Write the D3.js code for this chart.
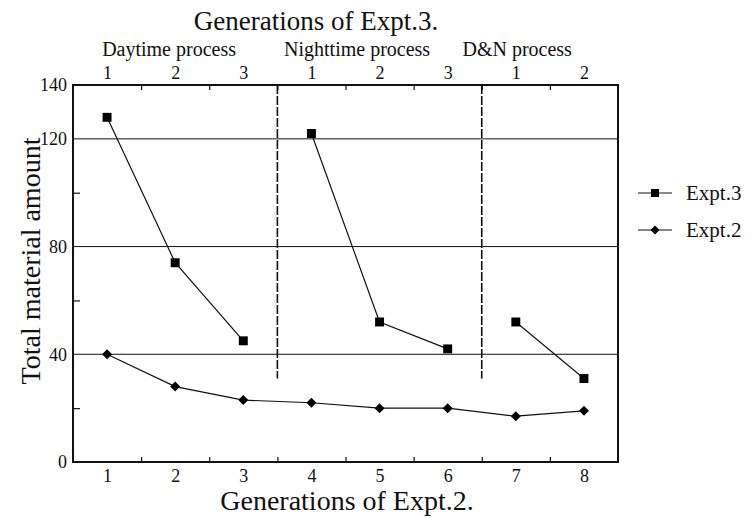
<!DOCTYPE html>
<html>
<head>
<meta charset="utf-8">
<script src="https://cdn.jsdelivr.net/npm/d3@7"></script>
<style>
  body { margin: 0; background: #fff; }
  svg text { font-family: "Liberation Serif", "DejaVu Serif", serif; fill: #111; }
</style>
</head>
<body>
<div id="chart"></div>
<script>
// data
const generations = [1, 2, 3, 4, 5, 6, 7, 8];
const expt3Values = [128, 74, 45, 122, 52, 42, 52, 31];
const expt3Segments = [[0, 1, 2], [3, 4, 5], [6, 7]];
const expt2Values = [40, 28, 23, 22, 20, 20, 17, 19];
const topTickLabels = ['1', '2', '3', '1', '2', '3', '1', '2'];
const processNames = ['Daytime process', 'Nighttime process', 'D&N process'];
const processBreaks = [3.5, 6.5];
const yTicks = [0, 40, 80, 120, 140];
const yGrid = [40, 80, 120];
const yMinor = [20, 60, 100];
const legendNames = ['Expt.3', 'Expt.2'];

const W = 752, H = 518;
const margin = { top: 85, right: 134, bottom: 56, left: 73 };
const width = W - margin.left - margin.right;
const height = H - margin.top - margin.bottom;
const serif = '"Liberation Serif", "DejaVu Serif", serif';

const svg = d3.select('#chart').append('svg')
    .attr('width', W)
    .attr('height', H)
    .attr('font-family', serif);

const g = svg.append('g')
    .attr('transform', `translate(${margin.left},${margin.top})`);

const x = d3.scaleLinear().domain([0.5, 8.5]).range([0, width]);
const y = d3.scaleLinear().domain([0, 140]).range([height, 0]);

// grid lines
g.selectAll('.grid').data(yGrid).enter().append('line')
    .attr('x1', 0).attr('x2', width)
    .attr('y1', d => y(d)).attr('y2', d => y(d))
    .attr('stroke', '#111').attr('stroke-width', 1);

// dashed separators
g.selectAll('.sep').data(processBreaks).enter().append('line')
    .attr('x1', d => x(d)).attr('x2', d => x(d))
    .attr('y1', y(140)).attr('y2', y(31))
    .attr('stroke', '#111').attr('stroke-width', 1.6)
    .attr('stroke-dasharray', '9,2');

// axes
const minorX = d3.range(1.5, 8, 1);

const bottomAxis = g.append('g')
    .attr('transform', `translate(0,${height})`)
    .call(d3.axisBottom(x).tickValues(generations).tickSize(0).tickPadding(7).tickFormat(d3.format('d')));
g.append('g')
    .attr('transform', `translate(0,${height})`)
    .call(d3.axisBottom(x).tickValues(minorX).tickSize(-5).tickFormat(''));

const topAxis = g.append('g')
    .call(d3.axisTop(x).tickValues(generations).tickSize(0).tickPadding(6).tickFormat((d, i) => topTickLabels[i]));
g.append('g')
    .call(d3.axisTop(x).tickValues(minorX).tickSize(-5).tickFormat(''));

const leftAxis = g.append('g')
    .call(d3.axisLeft(y).tickValues(yTicks).tickSize(0).tickPadding(6));
g.append('g')
    .call(d3.axisLeft(y).tickValues(yMinor).tickSize(-7).tickFormat(''));

g.selectAll('.domain').remove();
g.selectAll('.tick line').attr('stroke', '#111').attr('stroke-width', 1.2);
[bottomAxis, topAxis, leftAxis].forEach(a => {
    a.attr('font-family', serif).attr('font-size', 18);
    a.selectAll('text').attr('fill', '#111');
});

// frame
g.append('rect')
    .attr('width', width).attr('height', height)
    .attr('fill', 'none').attr('stroke', '#111').attr('stroke-width', 2);

// lines
const line = d3.line().x(d => x(d.gen)).y(d => y(d.v));
const expt3Points = generations.map((gen, i) => ({ gen, v: expt3Values[i] }));
const expt2Points = generations.map((gen, i) => ({ gen, v: expt2Values[i] }));

g.selectAll('.seg3').data(expt3Segments).enter().append('path')
    .attr('d', seg => line(seg.map(i => expt3Points[i])))
    .attr('fill', 'none').attr('stroke', '#111').attr('stroke-width', 1.2);

g.append('path')
    .attr('d', line(expt2Points))
    .attr('fill', 'none').attr('stroke', '#111').attr('stroke-width', 1.2);

const square = d3.symbol().type(d3.symbolSquare).size(80);
const diamond = 'M0,-5L5,0L0,5L-5,0Z';

g.selectAll('.sq').data(expt3Points).enter().append('path')
    .attr('d', square())
    .attr('transform', d => `translate(${x(d.gen)},${y(d.v)})`)
    .attr('fill', '#000');

g.selectAll('.dm').data(expt2Points).enter().append('path')
    .attr('d', diamond)
    .attr('transform', d => `translate(${x(d.gen)},${y(d.v)})`)
    .attr('fill', '#000');

// process labels above the top axis
const processLabelX = [1.91, 4.67, 7.02];
g.selectAll('.proc').data(processNames).enter().append('text')
    .attr('x', (d, i) => x(processLabelX[i]))
    .attr('y', -29)
    .attr('text-anchor', 'middle')
    .style('font-size', '20px')
    .text(d => d);

// titles
svg.append('text')
    .attr('x', 316).attr('y', 30)
    .attr('text-anchor', 'middle')
    .style('font-size', '27px')
    .text('Generations of Expt.3.');

svg.append('text')
    .attr('x', 347).attr('y', 510)
    .attr('text-anchor', 'middle')
    .style('font-size', '28px')
    .text('Generations of Expt.2.');

svg.append('text')
    .attr('transform', 'rotate(-90)')
    .attr('x', -261).attr('y', 40)
    .attr('text-anchor', 'middle')
    .style('font-size', '28px')
    .text('Total material amount');

// legend
const legend = svg.selectAll('.legend').data(legendNames).enter().append('g')
    .attr('transform', (d, i) => `translate(638,${193 + i * 37})`);
legend.append('line')
    .attr('x1', 0).attr('x2', 34)
    .attr('stroke', '#111').attr('stroke-width', 1.2);
legend.append('path')
    .attr('d', (d, i) => i === 0 ? d3.symbol().type(d3.symbolSquare).size(64)() : 'M0,-4.5L4.5,0L0,4.5L-4.5,0Z')
    .attr('transform', 'translate(17,0)')
    .attr('fill', '#000');
legend.append('text')
    .attr('x', 48).attr('y', 7)
    .style('font-size', '21px')
    .text(d => d);
</script>
</body>
</html>
